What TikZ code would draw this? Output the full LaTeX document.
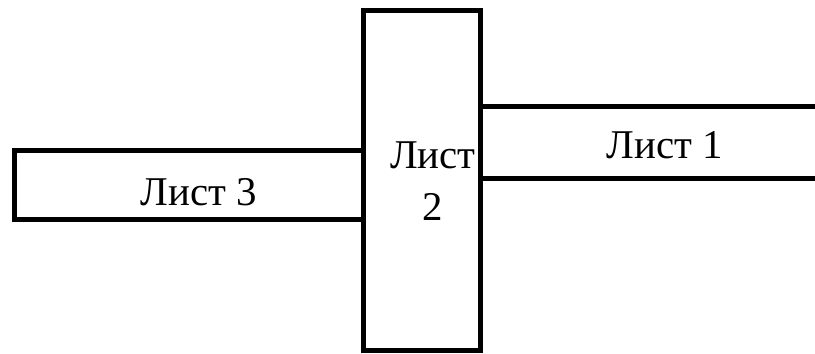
\documentclass[tikz,border=0pt]{standalone}
\usepackage{fontspec}
\setmainfont{Liberation Serif}
\begin{document}
\begin{tikzpicture}[
  x=1bp, y=-1bp,
  sheet/.style={rectangle, draw, line width=5bp, inner sep=0pt},
  label/.style={font=\fontsize{41}{52}\selectfont, align=center, inner sep=0pt, anchor=base}
]
\clip (0,0) rectangle (815,353);
\node[sheet, minimum width=348bp, minimum height=69bp] (sheet3) at (189,184.5) {};
\node[sheet, minimum width=370bp, minimum height=72bp] (sheet1) at (665,142) {};
\node[sheet, minimum width=117bp, minimum height=340bp] (sheet2) at (421.5,180) {};

\node[label] (name3) at (199,205) {Лист 3};
\node[label] (name1) at (665,158) {Лист 1};
\node[label] (name2) at (433,220) {Лист\\2};
\end{tikzpicture}
\end{document}
